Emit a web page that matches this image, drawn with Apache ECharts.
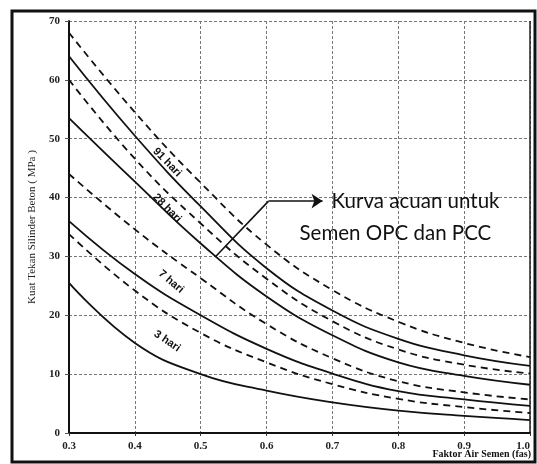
<!DOCTYPE html>
<html>
<head>
<meta charset="utf-8">
<script src="https://cdn.jsdelivr.net/npm/echarts@6/dist/echarts.min.js"></script>
<style>
  html, body { margin: 0; padding: 0; background: #fff; }
  #chart { width: 537px; height: 464px; }
</style>
</head>
<body>
<div id="chart"></div>
<script>
// faktor air semen (x)
const fas = [0.3, 0.4, 0.5, 0.6, 0.7, 0.8, 0.9, 1.0]
// kuat tekan (MPa), garis putus-putus (d) dan garis penuh (s)
const d91 = [68, 54.5, 42.5, 32, 24.3, 18.9, 15.3, 12.9]
const s91 = [64, 50.5, 38.5, 28, 20.8, 16, 13.2, 11.4]
const d28 = [60, 46.6, 35.6, 26.2, 19, 14.2, 11.6, 10.1]
const s28 = [53.5, 42.7, 32.2, 23.2, 16.6, 12, 9.7, 8.2]
const d7 = [44, 34.6, 26.3, 18.5, 12.7, 8.8, 6.9, 5.7]
const s7 = [36, 27, 20, 14.3, 10.1, 7.1, 5.7, 4.6]
const d3 = [33.8, 24.2, 17, 12, 8.3, 5.8, 4.4, 3.4]
const s3 = [25.5, 15.3, 10, 7.2, 5.2, 3.8, 2.9, 2.2]

const curveLabels = ['91 hari', '28 hari', '7 hari', '3 hari']
const labelAt = [[0.449, 46], [0.449, 38.2], [0.455, 25.7], [0.449, 15.6]]
const labelRot = [-0.8, -0.8, -0.7, -0.6]
const arrowPath = [[0.522, 29.9], [0.603, 39.4], [0.685, 39.4]]

const serif = '"Liberation Serif", "DejaVu Serif", serif'

function curve(values, dashed) {
  return {
    type: 'line',
    data: values.map((v, i) => [fas[i], v]),
    smooth: 0.45,
    symbol: 'none',
    lineStyle: {
      color: '#111',
      width: 1.8,
      type: dashed ? [7, 5] : 'solid',
    },
  }
}

const chart = echarts.init(document.getElementById('chart'))
chart.setOption({
  animation: false,
  backgroundColor: '#fff',
  grid: { left: 69, right: 7, top: 21, bottom: 31 },
  xAxis: {
    type: 'value',
    min: 0.3,
    max: 1.0,
    interval: 0.1,
    axisLine: { lineStyle: { color: '#111', width: 2 } },
    axisTick: { show: true, length: 3, lineStyle: { color: '#333' } },
    axisLabel: {
      margin: 8,
      fontFamily: serif,
      fontWeight: 'bold',
      fontSize: 11,
      color: '#222',
      alignMaxLabel: 'right',
      formatter: (v) => v.toFixed(1),
    },
    splitLine: { lineStyle: { color: '#777', type: [3, 2], width: 1 } },
  },
  yAxis: {
    type: 'value',
    min: 0,
    max: 70,
    interval: 10,
    name: 'Kuat Tekan Silinder Beton ( MPa )',
    nameLocation: 'middle',
    nameRotate: 90,
    nameGap: 29,
    nameTextStyle: { fontFamily: serif, fontSize: 11, color: '#222' },
    axisLine: { show: true, lineStyle: { color: '#111', width: 2 } },
    axisTick: { show: true, length: 4, lineStyle: { color: '#555' } },
    axisLabel: {
      margin: 9,
      fontFamily: serif,
      fontWeight: 'bold',
      fontSize: 11,
      color: '#222',
    },
    splitLine: { lineStyle: { color: '#777', type: [3, 2], width: 1 } },
  },
  series: [
    curve(d91, true),
    curve(s91, false),
    curve(d28, true),
    curve(s28, false),
    curve(d7, true),
    curve(s7, false),
    curve(d3, true),
    curve(s3, false),
    {
      type: 'lines',
      coordinateSystem: 'cartesian2d',
      symbolSize: 11,
      lineStyle: { color: '#111', width: 1.6, opacity: 1 },
      data: [
        { coords: [arrowPath[0], arrowPath[1]], symbol: ['none', 'none'] },
        { coords: [arrowPath[1], arrowPath[2]], symbol: ['none', 'arrow'] },
      ],
    },
  ],
})

// teks pada kurva + bingkai
const texts = curveLabels.map((t, i) => {
  const p = chart.convertToPixel({ gridIndex: 0 }, labelAt[i])
  return {
    type: 'text',
    x: p[0],
    y: p[1],
    rotation: labelRot[i],
    style: {
      text: t,
      font: 'bold 11px "Liberation Sans", Arial, sans-serif',
      fill: '#111',
      align: 'center',
      verticalAlign: 'middle',
    },
    z: 10,
  }
})
const boxTop = chart.convertToPixel({ gridIndex: 0 }, arrowPath[2])

chart.setOption({
  graphic: texts.concat([
    {
      type: 'text',
      x: boxTop[0] + 9,
      y: boxTop[1],
      style: {
        text: 'Kurva acuan untuk',
        font: '20.5px Lato, "Noto Sans", sans-serif',
        fill: '#111',
        verticalAlign: 'middle',
      },
      z: 10,
    },
    {
      type: 'text',
      x: boxTop[0] - 23,
      y: boxTop[1] + 32,
      style: {
        text: 'Semen OPC dan PCC',
        font: '20.5px Lato, "Noto Sans", sans-serif',
        fill: '#111',
        verticalAlign: 'middle',
      },
      z: 10,
    },
    {
      type: 'text',
      right: 6,
      bottom: 5,
      style: {
        text: 'Faktor Air Semen (fas)',
        font: 'bold 10px ' + serif,
        fill: '#111',
      },
    },
    {
      type: 'line',
      shape: { x1: 530, y1: 21, x2: 530, y2: 433 },
      style: { stroke: '#222', lineWidth: 1.5 },
    },
    {
      type: 'rect',
      shape: { x: 12, y: 11, width: 523, height: 451 },
      style: { fill: 'none', stroke: '#111', lineWidth: 3 },
      z: -1,
    },
  ]),
})
</script>
</body>
</html>
